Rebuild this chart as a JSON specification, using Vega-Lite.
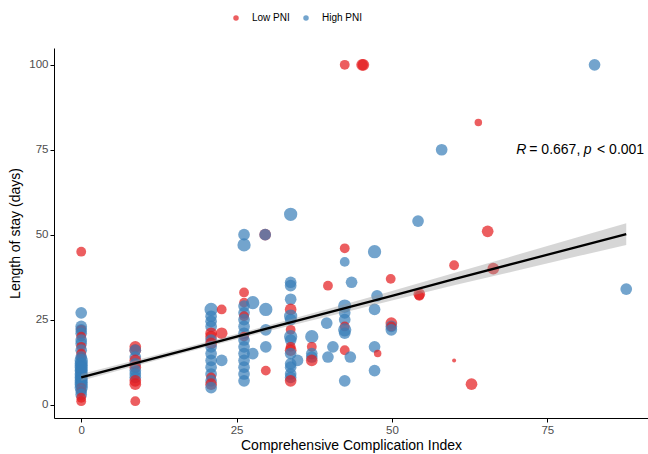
{
  "$schema": "https://vega.github.io/schema/vega-lite/v6.json",
  "width": 594,
  "height": 370,
  "autosize": {"type": "none"},
  "padding": {"left": 54, "top": 48, "right": 0, "bottom": 36},
  "config": {
    "view": {"stroke": null},
    "font": "Liberation Sans",
    "axis": {
      "grid": false,
      "domainColor": "#000000",
      "domainWidth": 1,
      "tickColor": "#000000",
      "tickWidth": 1,
      "tickSize": 4,
      "labelColor": "#4D4D4D",
      "labelFontSize": 11.5,
      "labelFont": "Liberation Sans",
      "labelPadding": 2,
      "titleFont": "Liberation Sans",
      "titleFontSize": 14,
      "titleFontWeight": "normal",
      "titleColor": "#000000"
    }
  },
  "datasets": {
    "pts": [
      {"cci": 0, "los": 45, "pni": "Low PNI", "s": 3},
      {"cci": 0, "los": 27, "pni": "High PNI", "s": 4},
      {"cci": 0, "los": 23, "pni": "High PNI", "s": 4},
      {"cci": 0, "los": 22, "pni": "Low PNI", "s": 3},
      {"cci": 0, "los": 22, "pni": "High PNI", "s": 4},
      {"cci": 0, "los": 21, "pni": "High PNI", "s": 4},
      {"cci": 0, "los": 20, "pni": "Low PNI", "s": 3},
      {"cci": 0, "los": 19, "pni": "High PNI", "s": 4},
      {"cci": 0, "los": 18, "pni": "High PNI", "s": 4},
      {"cci": 0, "los": 17, "pni": "Low PNI", "s": 3},
      {"cci": 0, "los": 16, "pni": "High PNI", "s": 4},
      {"cci": 0, "los": 15, "pni": "Low PNI", "s": 3},
      {"cci": 0, "los": 14, "pni": "Low PNI", "s": 3},
      {"cci": 0, "los": 14, "pni": "High PNI", "s": 4},
      {"cci": 0, "los": 13, "pni": "High PNI", "s": 5},
      {"cci": 0, "los": 12, "pni": "High PNI", "s": 5},
      {"cci": 0, "los": 11, "pni": "High PNI", "s": 5},
      {"cci": 0, "los": 10, "pni": "High PNI", "s": 5},
      {"cci": 0, "los": 10, "pni": "High PNI", "s": 4},
      {"cci": 0, "los": 9, "pni": "High PNI", "s": 5},
      {"cci": 0, "los": 9, "pni": "High PNI", "s": 4},
      {"cci": 0, "los": 8, "pni": "High PNI", "s": 5},
      {"cci": 0, "los": 8, "pni": "High PNI", "s": 4},
      {"cci": 0, "los": 7, "pni": "High PNI", "s": 5},
      {"cci": 0, "los": 7, "pni": "High PNI", "s": 4},
      {"cci": 0, "los": 6, "pni": "High PNI", "s": 5},
      {"cci": 0, "los": 6, "pni": "High PNI", "s": 4},
      {"cci": 0, "los": 5, "pni": "Low PNI", "s": 3},
      {"cci": 0, "los": 5, "pni": "High PNI", "s": 5},
      {"cci": 0, "los": 4, "pni": "Low PNI", "s": 3},
      {"cci": 0, "los": 4, "pni": "High PNI", "s": 4},
      {"cci": 0, "los": 3, "pni": "High PNI", "s": 4},
      {"cci": 0, "los": 2, "pni": "Low PNI", "s": 3},
      {"cci": 0, "los": 1, "pni": "Low PNI", "s": 3},
      {"cci": 0, "los": 12, "pni": "High PNI", "s": 4},
      {"cci": 0, "los": 11, "pni": "High PNI", "s": 4},
      {"cci": 8.7, "los": 17, "pni": "Low PNI", "s": 4},
      {"cci": 8.7, "los": 16, "pni": "Low PNI", "s": 4},
      {"cci": 8.7, "los": 16, "pni": "High PNI", "s": 4},
      {"cci": 8.7, "los": 14, "pni": "High PNI", "s": 4},
      {"cci": 8.7, "los": 13, "pni": "Low PNI", "s": 4},
      {"cci": 8.7, "los": 12, "pni": "High PNI", "s": 4},
      {"cci": 8.7, "los": 11, "pni": "Low PNI", "s": 4},
      {"cci": 8.7, "los": 10, "pni": "High PNI", "s": 4},
      {"cci": 8.7, "los": 9, "pni": "High PNI", "s": 4},
      {"cci": 8.7, "los": 8, "pni": "High PNI", "s": 4},
      {"cci": 8.7, "los": 7, "pni": "Low PNI", "s": 4},
      {"cci": 8.7, "los": 6, "pni": "Low PNI", "s": 4},
      {"cci": 8.7, "los": 1, "pni": "Low PNI", "s": 3},
      {"cci": 20.9, "los": 28, "pni": "High PNI", "s": 5},
      {"cci": 20.9, "los": 26, "pni": "High PNI", "s": 4},
      {"cci": 20.9, "los": 24.5, "pni": "High PNI", "s": 4},
      {"cci": 20.9, "los": 23, "pni": "High PNI", "s": 4},
      {"cci": 20.9, "los": 21, "pni": "Low PNI", "s": 4},
      {"cci": 20.9, "los": 20, "pni": "Low PNI", "s": 4},
      {"cci": 20.9, "los": 19, "pni": "High PNI", "s": 4},
      {"cci": 20.9, "los": 18, "pni": "Low PNI", "s": 4},
      {"cci": 20.9, "los": 17, "pni": "High PNI", "s": 4},
      {"cci": 20.9, "los": 15, "pni": "High PNI", "s": 4},
      {"cci": 20.9, "los": 13, "pni": "High PNI", "s": 4},
      {"cci": 20.9, "los": 11, "pni": "High PNI", "s": 4},
      {"cci": 20.9, "los": 9, "pni": "High PNI", "s": 4},
      {"cci": 20.9, "los": 8, "pni": "Low PNI", "s": 3},
      {"cci": 20.9, "los": 7, "pni": "High PNI", "s": 4},
      {"cci": 20.9, "los": 6, "pni": "Low PNI", "s": 4},
      {"cci": 20.9, "los": 5, "pni": "High PNI", "s": 4},
      {"cci": 22.6, "los": 28, "pni": "Low PNI", "s": 3},
      {"cci": 22.6, "los": 21, "pni": "Low PNI", "s": 4},
      {"cci": 22.6, "los": 13, "pni": "High PNI", "s": 4},
      {"cci": 26.2, "los": 50, "pni": "High PNI", "s": 4},
      {"cci": 26.2, "los": 47, "pni": "High PNI", "s": 5},
      {"cci": 26.2, "los": 33, "pni": "Low PNI", "s": 3},
      {"cci": 26.2, "los": 30, "pni": "Low PNI", "s": 3},
      {"cci": 26.2, "los": 29, "pni": "High PNI", "s": 4},
      {"cci": 26.2, "los": 27, "pni": "High PNI", "s": 4},
      {"cci": 26.2, "los": 26, "pni": "Low PNI", "s": 3},
      {"cci": 26.2, "los": 25, "pni": "High PNI", "s": 4},
      {"cci": 26.2, "los": 23, "pni": "High PNI", "s": 4},
      {"cci": 26.2, "los": 21, "pni": "High PNI", "s": 4},
      {"cci": 26.2, "los": 20, "pni": "Low PNI", "s": 3},
      {"cci": 26.2, "los": 19, "pni": "High PNI", "s": 4},
      {"cci": 26.2, "los": 17, "pni": "High PNI", "s": 4},
      {"cci": 26.2, "los": 15, "pni": "High PNI", "s": 4},
      {"cci": 26.2, "los": 13, "pni": "High PNI", "s": 4},
      {"cci": 26.2, "los": 11, "pni": "High PNI", "s": 4},
      {"cci": 26.2, "los": 9, "pni": "High PNI", "s": 4},
      {"cci": 26.2, "los": 7, "pni": "High PNI", "s": 4},
      {"cci": 27.6, "los": 30, "pni": "High PNI", "s": 5},
      {"cci": 27.6, "los": 15, "pni": "High PNI", "s": 4},
      {"cci": 29.6, "los": 50, "pni": "Low PNI", "s": 4},
      {"cci": 29.6, "los": 50, "pni": "High PNI", "s": 4},
      {"cci": 29.7, "los": 28, "pni": "High PNI", "s": 5},
      {"cci": 29.7, "los": 22, "pni": "High PNI", "s": 4},
      {"cci": 29.7, "los": 17, "pni": "High PNI", "s": 4},
      {"cci": 29.7, "los": 10, "pni": "Low PNI", "s": 3},
      {"cci": 33.7, "los": 56, "pni": "High PNI", "s": 5},
      {"cci": 33.7, "los": 36, "pni": "High PNI", "s": 4},
      {"cci": 33.7, "los": 35, "pni": "High PNI", "s": 4},
      {"cci": 33.7, "los": 31, "pni": "High PNI", "s": 4},
      {"cci": 33.7, "los": 28, "pni": "Low PNI", "s": 4},
      {"cci": 33.7, "los": 26, "pni": "High PNI", "s": 5},
      {"cci": 33.7, "los": 25, "pni": "High PNI", "s": 4},
      {"cci": 33.7, "los": 22, "pni": "Low PNI", "s": 3},
      {"cci": 33.7, "los": 20, "pni": "High PNI", "s": 5},
      {"cci": 33.7, "los": 19, "pni": "High PNI", "s": 4},
      {"cci": 33.7, "los": 17, "pni": "Low PNI", "s": 3},
      {"cci": 33.7, "los": 16, "pni": "Low PNI", "s": 4},
      {"cci": 33.7, "los": 15, "pni": "High PNI", "s": 4},
      {"cci": 33.7, "los": 12, "pni": "High PNI", "s": 4},
      {"cci": 33.7, "los": 11, "pni": "High PNI", "s": 4},
      {"cci": 33.7, "los": 9, "pni": "High PNI", "s": 4},
      {"cci": 33.7, "los": 8, "pni": "High PNI", "s": 4},
      {"cci": 33.7, "los": 7, "pni": "Low PNI", "s": 4},
      {"cci": 34.8, "los": 13, "pni": "High PNI", "s": 4},
      {"cci": 37.1, "los": 20, "pni": "High PNI", "s": 5},
      {"cci": 37.1, "los": 17, "pni": "Low PNI", "s": 3},
      {"cci": 37.1, "los": 15, "pni": "High PNI", "s": 4},
      {"cci": 37.1, "los": 14, "pni": "High PNI", "s": 4},
      {"cci": 37.1, "los": 13, "pni": "Low PNI", "s": 4},
      {"cci": 39.5, "los": 24, "pni": "High PNI", "s": 4},
      {"cci": 39.7, "los": 35, "pni": "Low PNI", "s": 3},
      {"cci": 40.5, "los": 17, "pni": "High PNI", "s": 4},
      {"cci": 39.7, "los": 14, "pni": "High PNI", "s": 4},
      {"cci": 42.4, "los": 46, "pni": "Low PNI", "s": 3},
      {"cci": 42.4, "los": 42, "pni": "High PNI", "s": 3},
      {"cci": 42.4, "los": 29, "pni": "High PNI", "s": 5},
      {"cci": 42.4, "los": 27, "pni": "High PNI", "s": 4},
      {"cci": 42.4, "los": 25, "pni": "High PNI", "s": 4},
      {"cci": 42.4, "los": 23, "pni": "Low PNI", "s": 3},
      {"cci": 42.4, "los": 22, "pni": "High PNI", "s": 5},
      {"cci": 42.4, "los": 21, "pni": "High PNI", "s": 4},
      {"cci": 42.4, "los": 16, "pni": "Low PNI", "s": 3},
      {"cci": 42.4, "los": 7, "pni": "High PNI", "s": 4},
      {"cci": 43.5, "los": 36, "pni": "High PNI", "s": 4},
      {"cci": 43.3, "los": 14, "pni": "High PNI", "s": 4},
      {"cci": 42.4, "los": 100, "pni": "Low PNI", "s": 3},
      {"cci": 45.2, "los": 100, "pni": "Low PNI", "s": 4},
      {"cci": 45.4, "los": 100, "pni": "Low PNI", "s": 4},
      {"cci": 47.2, "los": 45, "pni": "High PNI", "s": 5},
      {"cci": 47.6, "los": 32, "pni": "High PNI", "s": 4},
      {"cci": 47.2, "los": 28, "pni": "High PNI", "s": 4},
      {"cci": 47.2, "los": 17, "pni": "High PNI", "s": 4},
      {"cci": 47.7, "los": 15, "pni": "Low PNI", "s": 2},
      {"cci": 47.2, "los": 10, "pni": "High PNI", "s": 4},
      {"cci": 49.8, "los": 37, "pni": "Low PNI", "s": 3},
      {"cci": 49.9, "los": 24, "pni": "Low PNI", "s": 4},
      {"cci": 49.9, "los": 23, "pni": "High PNI", "s": 4},
      {"cci": 49.9, "los": 23, "pni": "Low PNI", "s": 3},
      {"cci": 49.9, "los": 22, "pni": "High PNI", "s": 4},
      {"cci": 54.2, "los": 54, "pni": "High PNI", "s": 4},
      {"cci": 54.4, "los": 32.5, "pni": "Low PNI", "s": 4},
      {"cci": 54.4, "los": 32, "pni": "Low PNI", "s": 3},
      {"cci": 58, "los": 75, "pni": "High PNI", "s": 4},
      {"cci": 60, "los": 41, "pni": "Low PNI", "s": 3},
      {"cci": 60, "los": 13, "pni": "Low PNI", "s": 1},
      {"cci": 62.8, "los": 6, "pni": "Low PNI", "s": 4},
      {"cci": 63.9, "los": 83, "pni": "Low PNI", "s": 2},
      {"cci": 65.4, "los": 51, "pni": "Low PNI", "s": 4},
      {"cci": 66.3, "los": 40, "pni": "Low PNI", "s": 4},
      {"cci": 82.6, "los": 100, "pni": "High PNI", "s": 4},
      {"cci": 87.7, "los": 34, "pni": "High PNI", "s": 4}
    ],
    "fit": [
      {"cci": 0, "fit": 8.0, "lo": 7.0, "hi": 9.0},
      {"cci": 10, "fit": 12.8, "lo": 12.0, "hi": 13.6},
      {"cci": 20, "fit": 17.6, "lo": 16.85, "hi": 18.35},
      {"cci": 30, "fit": 22.4, "lo": 21.55, "hi": 23.25},
      {"cci": 40, "fit": 27.2, "lo": 26.1, "hi": 28.3},
      {"cci": 50, "fit": 32.0, "lo": 30.6, "hi": 33.4},
      {"cci": 60, "fit": 36.9, "lo": 35.1, "hi": 38.7},
      {"cci": 70, "fit": 41.7, "lo": 39.4, "hi": 44.0},
      {"cci": 80, "fit": 46.5, "lo": 43.7, "hi": 49.3},
      {"cci": 87.7, "fit": 50.2, "lo": 47.0, "hi": 53.4}
    ],
    "italic": [
      {"cci": 70.02, "los": 73.8, "t": "R"},
      {"cci": 80.85, "los": 73.8, "t": "p"}
    ],
    "plain": [
      {"cci": 72.1, "los": 73.8, "t": "= 0.667,"},
      {"cci": 83.0, "los": 73.8, "t": "< 0.001"}
    ]
  },
  "encoding": {
    "x": {
      "field": "cci",
      "type": "quantitative",
      "title": "Comprehensive Complication Index",
      "scale": {"domain": [-4.38, 91.2], "nice": false, "zero": false},
      "axis": {"values": [0, 25, 50, 75], "titlePadding": 3}
    }
  },
  "layer": [
    {
      "data": {"name": "pts"},
      "mark": {"type": "circle", "opacity": 0.7, "strokeWidth": 0},
      "encoding": {
        "y": {
          "field": "los",
          "type": "quantitative",
          "title": "Length of stay (days)",
          "scale": {"domain": [-3.95, 104.95], "nice": false, "zero": false},
          "axis": {"values": [0, 25, 50, 75, 100], "titlePadding": 6}
        },
        "color": {
          "field": "pni",
          "type": "nominal",
          "scale": {"domain": ["Low PNI", "High PNI"], "range": ["#E41A1C", "#377EB8"]},
          "legend": {
            "title": null,
            "orient": "none",
            "direction": "horizontal",
            "legendX": 177,
            "legendY": -35,
            "padding": 0,
            "symbolType": "circle",
            "symbolSize": 30,
            "symbolOpacity": 0.7,
            "symbolStrokeWidth": 0,
            "labelFontSize": 10,
            "labelColor": "#000000",
            "labelOffset": 11,
            "columnPadding": 11
          }
        },
        "size": {
          "field": "s",
          "type": "quantitative",
          "scale": {"domain": [1, 5], "range": [16, 177]},
          "legend": null
        }
      }
    },
    {
      "data": {"name": "fit"},
      "mark": {"type": "area", "color": "#999999", "opacity": 0.4},
      "encoding": {
        "y": {"field": "lo", "type": "quantitative"},
        "y2": {"field": "hi"}
      }
    },
    {
      "data": {"name": "fit"},
      "mark": {"type": "line", "color": "#000000", "strokeWidth": 2.3},
      "encoding": {
        "y": {"field": "fit", "type": "quantitative"}
      }
    },
    {
      "data": {"name": "italic"},
      "mark": {"type": "text", "align": "left", "baseline": "alphabetic", "fontSize": 14, "fontStyle": "italic", "color": "#000000", "font": "Liberation Sans"},
      "encoding": {
        "y": {"field": "los", "type": "quantitative"},
        "text": {"field": "t"}
      }
    },
    {
      "data": {"name": "plain"},
      "mark": {"type": "text", "align": "left", "baseline": "alphabetic", "fontSize": 14, "color": "#000000", "font": "Liberation Sans"},
      "encoding": {
        "y": {"field": "los", "type": "quantitative"},
        "text": {"field": "t"}
      }
    }
  ]
}
